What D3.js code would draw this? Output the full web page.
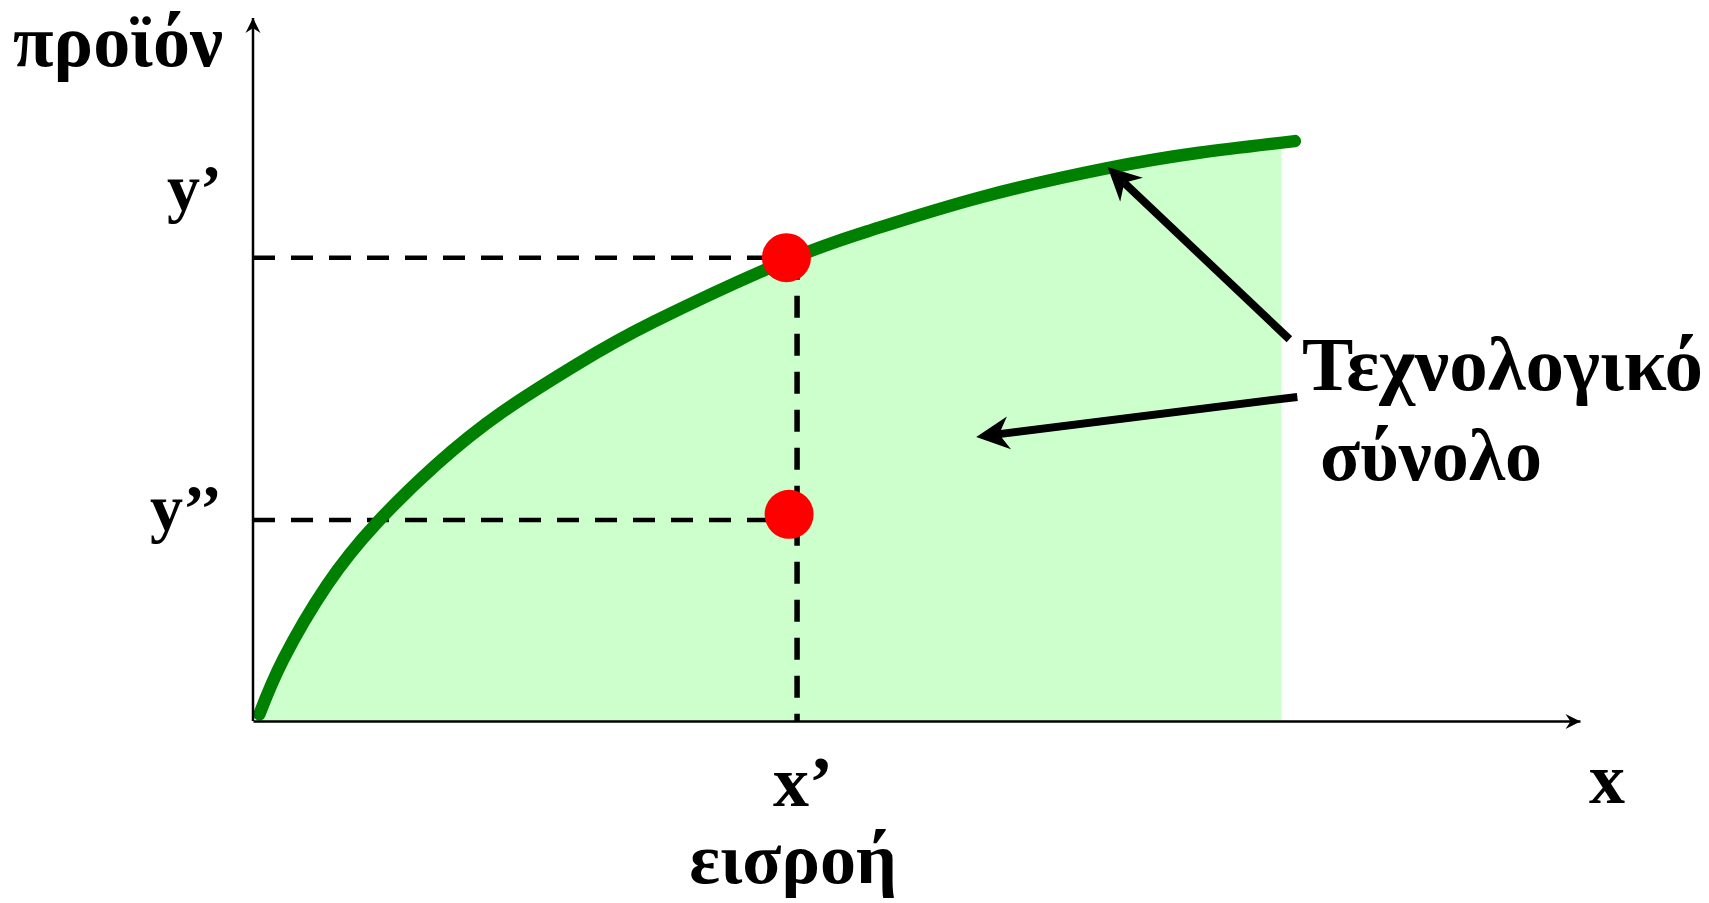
<!DOCTYPE html>
<html>
<head>
<meta charset="utf-8">
<script src="https://cdn.jsdelivr.net/npm/d3@7"></script>
<style>
  body { margin: 0; background: #fff; }
  svg text { font-family: "Liberation Serif", "Times New Roman", serif; font-weight: bold; fill: #000; }
</style>
</head>
<body>
<svg id="chart"></svg>
<script>
// curve (input 0-100, output 0-100)
const curveX = [0.48, 2.29, 5.58, 9.27, 13.79, 18.72, 24.47, 30.22, 40.07, 46.64, 54.85, 64.30, 71.28, 78.51];
const curveY = [0.95, 8.79, 19.35, 28.07, 36.43, 43.87, 50.8, 56.8, 65.39, 69.86, 74.51, 78.61, 80.84, 82.49];
const fillEndX = 77.5;

const xPrime = 41.0;
const yPrime = 65.9;
const yDoublePrime = 28.6;
const dotsX = [40.2, 40.4];
const dotsY = [65.9, 29.4];

// annotation arrows: [tailX, tailY, tipX, tipY]
const arrows = [
    [78.1, 54.3, 64.4, 78.8],
    [78.7, 46.1, 54.5, 40.4]
];

const W = 1709, H = 903;
const margin = {left: 253, right: 129, top: 18, bottom: 182};

const svg = d3.select('#chart')
    .attr('width', W)
    .attr('height', H);

const xscale = d3.scaleLinear()
    .domain([0, 100])
    .range([margin.left, W - margin.right]);

const yscale = d3.scaleLinear()
    .domain([0, 100])
    .range([H - margin.bottom, margin.top]);

const defs = svg.append('defs');

defs.append('marker')
    .attr('id', 'axis-arrow')
    .attr('markerUnits', 'userSpaceOnUse')
    .attr('viewBox', '-16 -9 18 18')
    .attr('markerWidth', 18)
    .attr('markerHeight', 18)
    .attr('refX', 0)
    .attr('refY', 0)
    .attr('orient', 'auto')
    .append('path')
    .attr('d', 'M0,0 L-15,-7.5 L-10,0 L-15,7.5 Z')
    .attr('fill', '#000');

defs.append('marker')
    .attr('id', 'note-arrow')
    .attr('markerUnits', 'userSpaceOnUse')
    .attr('viewBox', '-13 -19 40 38')
    .attr('markerWidth', 40)
    .attr('markerHeight', 38)
    .attr('refX', 0)
    .attr('refY', 0)
    .attr('orient', 'auto')
    .append('path')
    .attr('d', 'M23,0 L-10,-16.5 L0,0 L-10,16.5 Z')
    .attr('fill', '#000');

defs.append('clipPath')
    .attr('id', 'fill-clip')
    .append('rect')
    .attr('x', xscale(0))
    .attr('y', 0)
    .attr('width', xscale(fillEndX) - xscale(0))
    .attr('height', yscale(0));

const pts = curveX.map((x, i) => ({x: x, y: curveY[i]}));

// production set
const area = d3.area()
    .x(d => xscale(d.x))
    .y0(yscale(0))
    .y1(d => yscale(d.y))
    .curve(d3.curveNatural);

svg.append('path')
    .datum(pts)
    .attr('d', area)
    .attr('fill', '#ccffcc')
    .attr('clip-path', 'url(#fill-clip)');

// dashed guides
const dash = '22,16';
svg.append('line')
    .attr('x1', xscale(0)).attr('y1', yscale(yPrime))
    .attr('x2', xscale(xPrime)).attr('y2', yscale(yPrime))
    .attr('stroke', '#000').attr('stroke-width', 4.5).attr('stroke-dasharray', dash);
svg.append('line')
    .attr('x1', xscale(0)).attr('y1', yscale(yDoublePrime))
    .attr('x2', xscale(xPrime)).attr('y2', yscale(yDoublePrime))
    .attr('stroke', '#000').attr('stroke-width', 4.5).attr('stroke-dasharray', dash);
svg.append('line')
    .attr('x1', xscale(xPrime)).attr('y1', yscale(yPrime))
    .attr('x2', xscale(xPrime)).attr('y2', yscale(0))
    .attr('stroke', '#000').attr('stroke-width', 5.5).attr('stroke-dasharray', dash);

// frontier
const line = d3.line()
    .x(d => xscale(d.x))
    .y(d => yscale(d.y))
    .curve(d3.curveNatural);

svg.append('path')
    .datum(pts)
    .attr('d', line)
    .attr('fill', 'none')
    .attr('stroke', '#008000')
    .attr('stroke-width', 12.5)
    .attr('stroke-linecap', 'round');

// axes
const xaxis = d3.axisBottom(xscale).tickValues([]).tickSizeOuter(0);
const yaxis = d3.axisLeft(yscale).tickValues([]).tickSizeOuter(0);

svg.append('g')
    .attr('transform', `translate(0, ${yscale(0)})`)
    .call(xaxis)
    .select('.domain')
    .attr('stroke-width', 2.5)
    .attr('marker-end', 'url(#axis-arrow)');

svg.append('g')
    .attr('transform', `translate(${xscale(0)}, 0)`)
    .call(yaxis)
    .select('.domain')
    .attr('d', `M0,${yscale(0)}V${yscale(100)}`)
    .attr('stroke-width', 2.5)
    .attr('marker-end', 'url(#axis-arrow)');

// points
svg.selectAll('circle.pt')
    .data(dotsX.map((x, i) => ({x: x, y: dotsY[i]})))
    .enter()
    .append('circle')
    .attr('class', 'pt')
    .attr('cx', d => xscale(d.x))
    .attr('cy', d => yscale(d.y))
    .attr('r', 24.5)
    .attr('fill', '#ff0000');

// annotation arrows, line stops short so the head forms the tip
svg.selectAll('line.note')
    .data(arrows)
    .enter()
    .append('line')
    .attr('class', 'note')
    .each(function(a) {
        const x1 = xscale(a[0]), y1 = yscale(a[1]);
        const x2 = xscale(a[2]), y2 = yscale(a[3]);
        const len = Math.hypot(x2 - x1, y2 - y1);
        const k = (len - 23) / len;
        d3.select(this)
            .attr('x1', x1).attr('y1', y1)
            .attr('x2', x1 + (x2 - x1) * k)
            .attr('y2', y1 + (y2 - y1) * k);
    })
    .attr('stroke', '#000')
    .attr('stroke-width', 8)
    .attr('marker-end', 'url(#note-arrow)');

// labels
const label = svg.append('g');
label.append('text').attr('x', 13).attr('y', 66).attr('font-size', '74px').text('προϊόν');
label.append('text').attr('x', 222).attr('y', 210).attr('text-anchor', 'end').attr('font-size', '66px').text('y’');
label.append('text').attr('x', 222).attr('y', 530).attr('text-anchor', 'end').attr('font-size', '66px').text('y’’');
label.append('text').attr('x', 773).attr('y', 806).attr('font-size', '72px').text('x’');
label.append('text').attr('x', 793).attr('y', 883).attr('text-anchor', 'middle').attr('font-size', '72px').text('εισροή');
label.append('text').attr('x', 1589).attr('y', 803).attr('font-size', '72px').text('x');
label.append('text').attr('x', 1302).attr('y', 390).attr('font-size', '77px').text('Τεχνολογικό');
label.append('text').attr('x', 1320).attr('y', 480).attr('font-size', '74px').text('σύνολο');
</script>
</body>
</html>
